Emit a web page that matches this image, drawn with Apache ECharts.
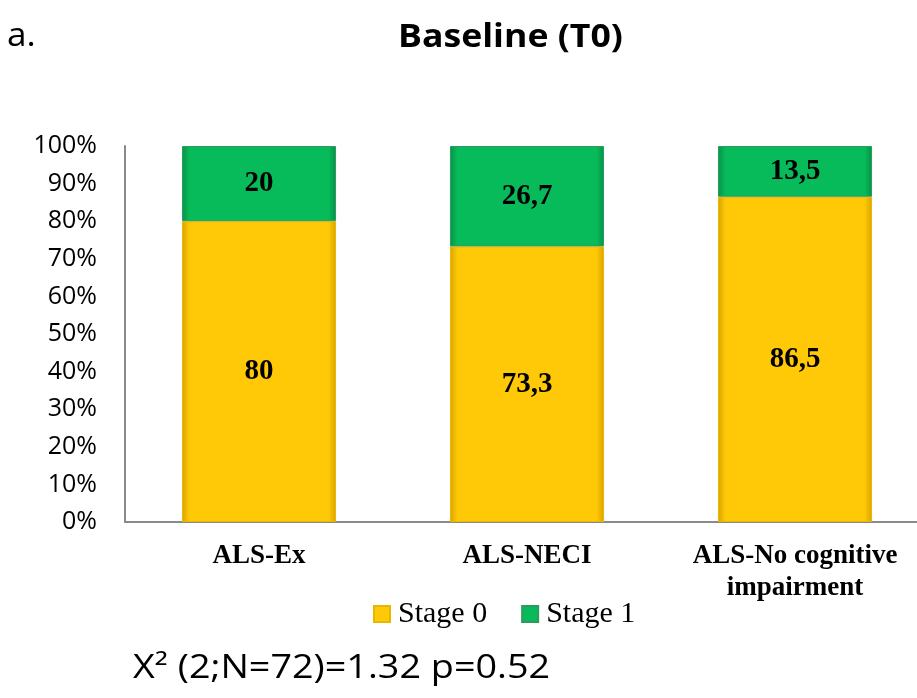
<!DOCTYPE html>
<html><head><meta charset="utf-8">
<script src="https://cdn.jsdelivr.net/npm/echarts@6/dist/echarts.min.js"></script>
<style>html,body{margin:0;padding:0;background:#fff}#c{width:917px;height:698px}</style>
</head><body><div id="c"></div>
<script>
const categories = ['ALS-Ex', 'ALS-NECI', 'ALS-No cognitive\nimpairment'];
const stage0 = [80, 73.3, 86.5];
const stage1 = [20, 26.7, 13.5];
const yTicks = [0, 10, 20, 30, 40, 50, 60, 70, 80, 90, 100];

const chart = echarts.init(document.getElementById('c'));
const fmt = p => String(p.value).replace('.', ',');
function grad(mid, dark) {
  return new echarts.graphic.LinearGradient(0, 0, 1, 0, [
    {offset: 0, color: dark}, {offset: 0.05, color: mid},
    {offset: 0.95, color: mid}, {offset: 1, color: dark}
  ]);
}
chart.setOption({
  animation: false,
  graphic: [
    {type: 'text', left: 398, top: 21, scaleX: 1.08,
     style: {text: 'Baseline (T0)', font: 'bold 33px "Open Sans"', fill: '#000'}},
    {type: 'text', left: 7, top: 21, scaleX: 1.1,
     style: {text: 'a.', font: '32px "Open Sans"', fill: '#000'}},
    {type: 'text', left: 133, top: 653, scaleX: 1.18,
     style: {text: 'X² (2;N=72)=1.32 p=0.52', font: '32px "Open Sans"', fill: '#000'}}
  ],
  legend: {
    data: ['Stage 0', 'Stage 1'], left: 368, top: 594, itemWidth: 16, itemHeight: 16, itemGap: 34,
    icon: 'rect',
    textStyle: {fontFamily: 'Liberation Serif', fontSize: 30, color: '#000', padding: [0, 0, 0, 3]}
  },
  grid: {left: 125, top: 146, right: -12, bottom: 176, containLabel: false, outerBoundsMode: 'none'},
  xAxis: {
    type: 'category', data: categories,
    axisLine: {lineStyle: {color: '#8a8a8a', width: 2}},
    axisTick: {show: false},
    axisLabel: {interval: 0, hideOverlap: false, fontFamily: 'Liberation Serif', fontWeight: 'bold',
                fontSize: 27, color: '#000', margin: 18, lineHeight: 32}
  },
  yAxis: {
    type: 'value', min: 0, max: 100, interval: 10,
    axisLine: {show: true, lineStyle: {color: '#8a8a8a', width: 2}},
    axisTick: {show: false},
    splitLine: {show: false},
    axisLabel: {fontFamily: 'Open Sans', fontSize: 25, color: '#000', margin: 28,
                formatter: v => (yTicks.includes(v) ? v + '%' : '')}
  },
  series: [
    {name: 'Stage 0', type: 'bar', stack: 's', data: stage0, barWidth: '57.5%',
     itemStyle: {color: grad('#ffc907', '#d9a400'), borderColor: '#e8b800', borderWidth: 1},
     label: {show: true, position: 'inside', formatter: fmt, fontFamily: 'Liberation Serif',
             fontWeight: 'bold', fontSize: 29, color: '#000'}},
    {name: 'Stage 1', type: 'bar', stack: 's', data: stage1, barWidth: '57.5%',
     itemStyle: {color: grad('#08bb5a', '#05924a'), borderColor: '#2e9a5e', borderWidth: 1},
     label: {show: true, position: 'inside', formatter: fmt, fontFamily: 'Liberation Serif',
             fontWeight: 'bold', fontSize: 29, color: '#000'}}
  ]
});
</script></body></html>
